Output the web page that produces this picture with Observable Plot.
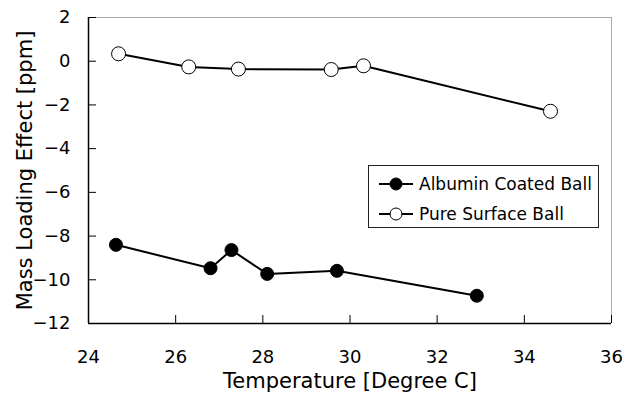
<!DOCTYPE html>
<html><head><meta charset="utf-8">
<script src="https://cdn.jsdelivr.net/npm/d3@7"></script>
<script src="https://cdn.jsdelivr.net/npm/@observablehq/plot@0.6"></script>
<style>
html,body{margin:0;padding:0;background:#fff;}
#wrap{position:relative;width:634px;height:397px;font-family:"DejaVu Sans",sans-serif;}
#legend{position:absolute;left:368px;top:165px;width:229px;height:61px;border:1px solid #222;background:#fff;}
.row{position:absolute;left:0;height:30px;display:flex;align-items:center;font-size:17px;color:#000;white-space:nowrap;}
.row svg{margin-left:10px;margin-right:6px;}
</style>
</head><body>
<div id="wrap"></div>
<script>
const seriesNames = ["Albumin Coated Ball", "Pure Surface Ball"];
const albuminTemp = [24.63, 26.8, 27.28, 28.1, 29.7, 32.91];
const albuminEffect = [-8.4, -9.47, -8.64, -9.73, -9.59, -10.73];
const pureTemp = [24.69, 26.3, 27.44, 29.57, 30.31, 34.6];
const pureEffect = [0.34, -0.26, -0.36, -0.38, -0.21, -2.29];
const xTicks = [24, 26, 28, 30, 32, 34, 36];
const yTicks = [2, 0, -2, -4, -6, -8, -10, -12];
const xLabel = "Temperature [Degree C]";
const yLabel = "Mass Loading Effect [ppm]";

const albumin = albuminTemp.map((t, i) => ({t, v: albuminEffect[i]}));
const pure = pureTemp.map((t, i) => ({t, v: pureEffect[i]}));

const font = "'DejaVu Sans', sans-serif";
const chart = Plot.plot({
  width: 634, height: 397,
  marginLeft: 88, marginRight: 23, marginTop: 17, marginBottom: 74,
  style: {fontFamily: font, fontSize: "18px", color: "#000", background: "#fff"},
  x: {domain: [24, 36]},
  y: {domain: [-12, 2]},
  marks: [
    Plot.ruleY([2], {stroke: "#aaa"}),
    Plot.ruleX([36], {stroke: "#aaa"}),
    Plot.axisX({ticks: xTicks, tickSize: 8, dy: -8, tickFormat: () => "", label: null, stroke: "#000"}),
    Plot.axisY({ticks: yTicks, tickSize: 8, dx: 8, tickFormat: () => "", label: null, stroke: "#000"}),
    Plot.axisX({ticks: xTicks, tickSize: 0, tickPadding: 27, label: null, fill: "#000", fontSize: 18}),
    Plot.axisY({ticks: yTicks, tickSize: 0, tickPadding: 18, label: null, fill: "#000", fontSize: 18}),
    Plot.ruleX([24], {stroke: "#000", strokeWidth: 1.5}),
    Plot.ruleY([-12], {stroke: "#000", strokeWidth: 1.5}),
    Plot.text([xLabel], {frameAnchor: "bottom", textAnchor: "middle", lineAnchor: "middle", dy: 58, fontSize: 21, fill: "#000"}),
    Plot.text([yLabel], {frameAnchor: "left", textAnchor: "middle", lineAnchor: "middle", dx: -63, rotate: -90, fontSize: 21, fill: "#000"}),
    Plot.line(pure, {x: "t", y: "v", stroke: "#000", strokeWidth: 2}),
    Plot.line(albumin, {x: "t", y: "v", stroke: "#000", strokeWidth: 2}),
    Plot.dot(pure, {x: "t", y: "v", r: 7, fill: "#fff", stroke: "#000", strokeWidth: 1}),
    Plot.dot(albumin, {x: "t", y: "v", r: 6.5, fill: "#000", stroke: "#000", strokeWidth: 1})
  ]
});
const wrap = document.getElementById("wrap");
wrap.appendChild(chart);

const legend = document.createElement("div");
legend.id = "legend";
seriesNames.forEach((name, i) => {
  const row = document.createElement("div");
  row.className = "row";
  row.style.top = (3 + i * 30) + "px";
  const fill = i === 0 ? "#000" : "#fff";
  row.innerHTML = `<svg width="34" height="16"><line x1="0" y1="8" x2="34" y2="8" stroke="#000" stroke-width="2"/><circle cx="17" cy="8" r="6" fill="${fill}" stroke="#000" stroke-width="1"/></svg><span>${name}</span>`;
  legend.appendChild(row);
});
wrap.appendChild(legend);
</script>
</body></html>
